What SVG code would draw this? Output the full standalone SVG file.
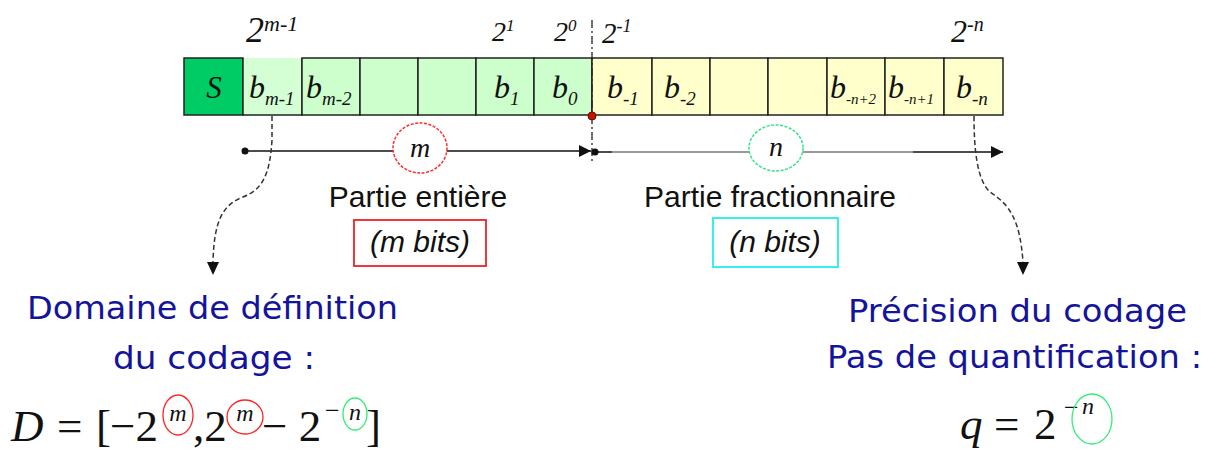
<svg xmlns="http://www.w3.org/2000/svg" width="1213" height="450" viewBox="0 0 1213 450">
<defs>
<style>
.cell{stroke:#222;stroke-width:1.5}
.g{fill:#ccffcc}
.y{fill:#ffffcc}
.ti{font-family:"Liberation Serif",serif;font-style:italic;fill:#111}
.ts{font-family:"Liberation Serif",serif;fill:#111}
.ar{font-family:"Liberation Sans",Arial,sans-serif;fill:#111;font-size:30px}
.bl{font-family:"DejaVu Sans",Verdana,sans-serif;fill:#14149a;font-size:32px}
.dash{fill:none;stroke:#333;stroke-width:1.5;stroke-dasharray:5 3}
</style>
<marker id="ah" viewBox="0 0 12 12" refX="12" refY="6" markerWidth="12" markerHeight="12" markerUnits="userSpaceOnUse" orient="auto">
<path d="M0,0 L12,6 L0,12 z" fill="#111"/>
</marker>
</defs>
<rect width="1213" height="450" fill="#fff"/>

<g id="bar">
<g id="cell-s"><rect class="cell" x="184" y="58" width="59" height="57" fill="#00cc66"/><text class="ti" x="214" y="98" font-size="31" text-anchor="middle">S</text></g>
<g id="cell-bm1"><rect x="243" y="58" width="59" height="57" fill="#d4ffd4"/><path d="M243,58 V115 H302 V58" fill="none" stroke="#222" stroke-width="1.5"/><text class="ti" x="249" y="98" font-size="32">b<tspan font-size="19" dy="7">m-1</tspan></text></g>
<g id="cell-bm2"><rect class="cell g" x="302" y="58" width="58" height="57"/><text class="ti" x="306" y="98" font-size="32">b<tspan font-size="19" dy="7">m-2</tspan></text></g>
<g id="cell-g3"><rect class="cell g" x="360" y="58" width="58" height="57"/></g>
<g id="cell-g4"><rect class="cell g" x="418" y="58" width="58" height="57"/></g>
<g id="cell-b1"><rect class="cell g" x="476" y="58" width="58" height="57"/><text class="ti" x="494" y="98" font-size="32">b<tspan font-size="19" dy="7">1</tspan></text></g>
<g id="cell-b0"><rect class="cell g" x="534" y="58" width="58" height="57"/><text class="ti" x="552" y="98" font-size="32">b<tspan font-size="19" dy="7">0</tspan></text></g>
<g id="cell-bn1"><rect class="cell y" x="592" y="58" width="60" height="57"/><text class="ti" x="607" y="98" font-size="32">b<tspan font-size="19" dy="7">-1</tspan></text></g>
<g id="cell-bn2"><rect class="cell y" x="652" y="58" width="58" height="57"/><text class="ti" x="664" y="98" font-size="32">b<tspan font-size="19" dy="7">-2</tspan></text></g>
<g id="cell-y3"><rect class="cell y" x="710" y="58" width="58" height="57"/></g>
<g id="cell-y4"><rect class="cell y" x="768" y="58" width="59" height="57"/></g>
<g id="cell-bnp2"><rect class="cell y" x="827" y="58" width="58" height="57"/><text class="ti" x="830" y="98" font-size="32">b<tspan font-size="15" dy="6">-n+2</tspan></text></g>
<g id="cell-bnp1"><rect class="cell y" x="885" y="58" width="59" height="57"/><text class="ti" x="888" y="98" font-size="32">b<tspan font-size="15" dy="6">-n+1</tspan></text></g>
<g id="cell-bn"><rect class="cell y" x="944" y="58" width="59" height="57"/><text class="ti" x="956" y="98" font-size="32">b<tspan font-size="19" dy="7">-n</tspan></text></g>
</g>

<g id="weights">
<text class="ti" x="246" y="42" font-size="36">2<tspan font-size="22" dy="-11">m-1</tspan></text>
<text class="ti" x="492" y="41" font-size="28">2<tspan font-size="17" dy="-10">1</tspan></text>
<text class="ti" x="554" y="41" font-size="28">2<tspan font-size="17" dy="-10">0</tspan></text>
<text class="ti" x="602" y="43" font-size="29">2<tspan font-size="18" dy="-11">-1</tspan></text>
<text class="ti" x="951" y="42" font-size="32">2<tspan font-size="20" dy="-11">-n</tspan></text>
</g>

<g id="connectors">
<line x1="592" y1="20" x2="592" y2="163" stroke="#222" stroke-width="1.3" stroke-dasharray="8 3 2 3"/>
<circle cx="592" cy="116" r="4" fill="#cc1100" stroke="#661100" stroke-width="1"/>
<circle cx="245" cy="151" r="3.5" fill="#111"/>
<line x1="245" y1="151" x2="591" y2="151" stroke="#111" stroke-width="1.5" marker-end="url(#ah)"/>
<circle cx="595" cy="152" r="3.5" fill="#111"/>
<line x1="595" y1="152" x2="612" y2="152" stroke="#111" stroke-width="1.5"/>
<line x1="612" y1="152" x2="913" y2="152" stroke="#999" stroke-width="1.8"/>
<line x1="913" y1="152" x2="1003" y2="152" stroke="#111" stroke-width="1.5" marker-end="url(#ah)"/>
<path class="dash" d="M272,116 L272,140 C270,175 262,190 243,197 C222,205 214,222 213,262"/>
<path d="M207,262 L219,262 L213,275 z" fill="#111"/>
<path class="dash" d="M974,116 C974,150 977,180 990,192 C1010,205 1020,220 1023,262"/>
<path d="M1017,262 L1029,262 L1023,275 z" fill="#111"/>
</g>

<g id="label-m">
<ellipse cx="420" cy="148" rx="27" ry="25" fill="#fff" stroke="#ff2a2a" stroke-width="1.5" stroke-dasharray="3 1.5"/>
<text class="ti" x="420" y="157" font-size="28" text-anchor="middle">m</text>
</g>
<g id="label-n">
<ellipse cx="776" cy="148" rx="27" ry="23" fill="#fff" stroke="#33e38a" stroke-width="1.5" stroke-dasharray="3 1.5"/>
<text class="ti" x="776" y="156" font-size="28" text-anchor="middle">n</text>
</g>

<g id="partie-entiere">
<text class="ar" x="418" y="207" text-anchor="middle">Partie entière</text>
<rect x="354" y="220" width="132" height="46" fill="none" stroke="#ee2222" stroke-width="1.8"/>
<text class="ar" x="420" y="252" font-style="italic" font-size="29" text-anchor="middle">(m bits)</text>
</g>
<g id="partie-fractionnaire">
<text class="ar" x="770" y="207" text-anchor="middle">Partie fractionnaire</text>
<rect x="713" y="218" width="125" height="49" fill="none" stroke="#22eeee" stroke-width="1.8"/>
<text class="ar" x="775" y="252" font-style="italic" font-size="29" text-anchor="middle">(n bits)</text>
</g>

<g id="domaine">
<text class="bl" x="27" y="319" textLength="371" lengthAdjust="spacingAndGlyphs">Domaine de définition</text>
<text class="bl" x="113" y="369" textLength="202" lengthAdjust="spacingAndGlyphs">du codage :</text>
<text class="ti" x="11" y="441" font-size="45">D</text>
<text class="ts" x="57" y="441" font-size="45">=</text>
<text class="ts" x="96" y="441" font-size="45">[</text>
<text class="ts" x="110" y="441" font-size="45">−2</text>
<text class="ts" x="193" y="441" font-size="45">,2</text>
<text class="ts" x="262" y="441" font-size="45">− 2</text>
<text class="ts" x="325" y="419" font-size="26">−</text>
<text class="ts" x="366" y="441" font-size="45">]</text>
<ellipse cx="178" cy="415" rx="15" ry="20" fill="none" stroke="#ff2222" stroke-width="1.3"/>
<text class="ti" x="178" y="421" font-size="24" text-anchor="middle">m</text>
<ellipse cx="245" cy="417" rx="18" ry="17" fill="none" stroke="#ff2222" stroke-width="1.3"/>
<text class="ti" x="245" y="421" font-size="24" text-anchor="middle">m</text>
<ellipse cx="355" cy="414" rx="12" ry="16" fill="none" stroke="#33ee77" stroke-width="1.3"/>
<text class="ti" x="355" y="420" font-size="24" text-anchor="middle">n</text>
</g>

<g id="precision">
<text class="bl" x="848" y="322" textLength="339" lengthAdjust="spacingAndGlyphs">Précision du codage</text>
<text class="bl" x="827" y="368" textLength="375" lengthAdjust="spacingAndGlyphs">Pas de quantification :</text>
<text class="ti" x="960" y="439" font-size="45">q</text>
<text class="ts" x="994" y="439" font-size="45">=</text>
<text class="ts" x="1034" y="439" font-size="45">2</text>
<text class="ts" x="1064" y="416" font-size="26">−</text>
<ellipse cx="1092" cy="419" rx="20" ry="25" fill="none" stroke="#33ee77" stroke-width="1.3"/>
<text class="ti" x="1088" y="414" font-size="24" text-anchor="middle">n</text>
</g>
</svg>
